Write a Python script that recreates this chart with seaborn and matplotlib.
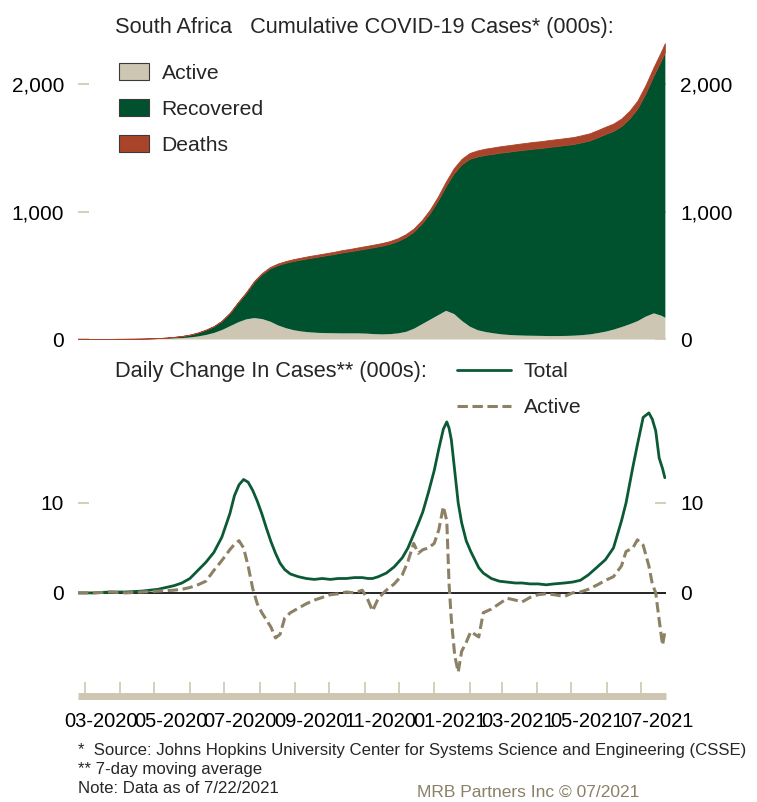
import numpy as np
import pandas as pd
import matplotlib
matplotlib.use("Agg")
import matplotlib.pyplot as plt
import matplotlib.dates as mdates
from matplotlib.patches import Patch
from matplotlib.lines import Line2D
import seaborn as sns

# Cumulative cases (000s), weekly from 2020-02-24, last point 2021-07-22
cum_dates = list(pd.date_range("2020-02-24", "2021-07-19", freq="7D")) + [pd.Timestamp("2021-07-22")]
cum_total = [0.0, 0.0, 0.0, 0.1, 0.4, 1.3, 1.7, 2.3, 3.3, 4.8, 7.2, 10.7, 16.4, 23.6, 34.4, 50.9,
             73.5, 101.6, 144.3, 205.7, 287.8, 364.3, 452.5, 516.9, 563.6, 592.1, 611.5, 627.0,
             639.4, 651.5, 661.9, 672.6, 683.2, 696.4, 706.3, 717.9, 728.8, 740.3, 752.3, 767.7,
             790.0, 821.9, 866.1, 930.7, 1011.9, 1113.3, 1231.6, 1337.9, 1413.0, 1459.0, 1479.3,
             1493.3, 1503.0, 1513.4, 1521.0, 1530.0, 1537.9, 1546.0, 1552.0, 1561.0, 1568.0,
             1576.0, 1584.0, 1598.0, 1613.0, 1638.0, 1665.0, 1690.0, 1730.0, 1790.0, 1870.0,
             1990.0, 2130.0, 2260.0, 2320.0]
cum_deaths = [0, 0, 0, 0, 0, 0.0, 0.01, 0.03, 0.06, 0.09, 0.13, 0.2, 0.3, 0.45, 0.7, 1.1, 1.6,
              2.0, 2.7, 3.2, 4.2, 5.4, 7.5, 8.5, 10.8, 12.0, 13.1, 14.1, 15.0, 15.7, 16.1, 16.7,
              17.2, 17.9, 18.4, 19.0, 19.6, 20.0, 20.4, 20.9, 21.5, 22.4, 23.6, 25.2, 27.4, 30.0,
              34.3, 38.9, 42.6, 45.6, 47.4, 48.5, 49.6, 50.4, 50.9, 51.3, 51.9, 52.5, 53.3, 53.6,
              54.0, 54.3, 54.7, 55.0, 55.3, 55.8, 56.5, 57.4, 58.3, 59.4, 61.2, 63.3, 65.6, 68.0,
              69.4]
cum_active = [0.0, 0.0, 0.0, 0.1, 0.4, 1.2, 1.5, 1.8, 2.0, 2.6, 4.2, 6.0, 8.5, 11.0, 16.0, 24.0,
              36.0, 52.0, 75.0, 105.0, 135.0, 158.0, 168.0, 160.0, 140.0, 110.0, 88.0, 72.0, 62.0,
              56.0, 52.0, 50.0, 49.0, 48.0, 48.0, 48.0, 46.0, 42.0, 40.0, 42.0, 48.0, 60.0, 85.0,
              120.0, 155.0, 190.0, 225.0, 200.0, 145.0, 100.0, 72.0, 58.0, 48.0, 40.0, 35.0, 32.0,
              30.0, 29.0, 28.0, 27.0, 27.0, 28.0, 30.0, 34.0, 40.0, 50.0, 62.0, 78.0, 98.0, 120.0,
              145.0, 180.0, 205.0, 185.0, 170.0]

# Daily change in cases, 7-day moving average (000s)
daily_dates = ["2020-02-24", "2020-03-09", "2020-03-23", "2020-04-06", "2020-04-20", "2020-05-04",
               "2020-05-18", "2020-05-25", "2020-06-01", "2020-06-08", "2020-06-15", "2020-06-22",
               "2020-06-29", "2020-07-06", "2020-07-10", "2020-07-14", "2020-07-18", "2020-07-22",
               "2020-07-26", "2020-07-30", "2020-08-03", "2020-08-07", "2020-08-11", "2020-08-15",
               "2020-08-19", "2020-08-23", "2020-08-28", "2020-09-04", "2020-09-11", "2020-09-18",
               "2020-09-25", "2020-10-02", "2020-10-09", "2020-10-16", "2020-10-23", "2020-10-30",
               "2020-11-04", "2020-11-08", "2020-11-13", "2020-11-20", "2020-11-27", "2020-12-04",
               "2020-12-09", "2020-12-14", "2020-12-18", "2020-12-22", "2020-12-27", "2021-01-01",
               "2021-01-05", "2021-01-09", "2021-01-12", "2021-01-14", "2021-01-16", "2021-01-19",
               "2021-01-22", "2021-01-25", "2021-01-29", "2021-02-02", "2021-02-09", "2021-02-13",
               "2021-02-20", "2021-02-27", "2021-03-06", "2021-03-13", "2021-03-19", "2021-03-26",
               "2021-04-02", "2021-04-09", "2021-04-16", "2021-04-25", "2021-05-02", "2021-05-09",
               "2021-05-16", "2021-05-24", "2021-05-31", "2021-06-07", "2021-06-14", "2021-06-18",
               "2021-06-21", "2021-06-24", "2021-06-28", "2021-07-03", "2021-07-08", "2021-07-11",
               "2021-07-14", "2021-07-17", "2021-07-20", "2021-07-22"]
daily_total = [0.0, 0.0, 0.1, 0.1, 0.2, 0.4, 0.8, 1.1, 1.6, 2.5, 3.4, 4.5, 6.2, 8.8, 10.8, 12.0,
               12.6, 12.3, 11.4, 10.2, 8.8, 7.2, 5.7, 4.4, 3.3, 2.6, 2.1, 1.8, 1.6, 1.5, 1.6, 1.5,
               1.6, 1.6, 1.7, 1.7, 1.6, 1.6, 1.8, 2.2, 2.9, 3.9, 5.0, 6.5, 7.7, 9.0, 11.2, 13.6,
               16.0, 18.2, 19.0, 18.3, 17.0, 13.5, 10.0, 7.8, 5.8, 4.6, 2.8, 2.2, 1.6, 1.3, 1.2,
               1.1, 1.1, 1.0, 1.0, 0.9, 1.0, 1.1, 1.2, 1.4, 2.0, 2.9, 3.7, 5.0, 8.0, 10.0, 12.0,
               14.0, 16.5, 19.5, 20.0, 19.3, 18.0, 15.0, 13.8, 12.8]
daily_active = [0.0, 0.0, 0.1, 0.0, 0.1, 0.2, 0.3, 0.4, 0.6, 0.9, 1.3, 2.5, 3.6, 4.8, 5.4, 5.8,
                5.0, 3.0, 0.5, -1.2, -2.2, -3.0, -3.8, -5.0, -4.6, -2.8, -2.2, -1.7, -1.2, -0.8,
                -0.5, -0.2, -0.1, 0.1, 0.0, 0.3, -0.8, -2.0, -0.6, 0.3, 1.0, 2.0, 3.5, 5.5, 4.4,
                4.8, 5.0, 5.5, 7.0, 9.6, 8.0, 1.0, -3.0, -7.0, -8.8, -6.5, -5.5, -4.3, -4.9, -2.2,
                -1.8, -1.2, -0.6, -0.8, -1.0, -0.5, -0.2, -0.1, -0.2, -0.4, 0.0, 0.1, 0.4, 0.9,
                1.4, 1.8, 3.0, 4.6, 4.8, 5.0, 5.9, 5.3, 3.0, 1.0, 0.0, -3.0, -5.8, -4.3]

TAN = "#cdc6b2"
GREEN = "#00522f"
RUST = "#a9442a"
LINE_GREEN = "#0b5a35"
DASH_TAN = "#8d8165"
MRB = "#8b8068"

sns.set_theme(style="white")
plt.rcParams["font.family"] = ["Liberation Sans", "DejaVu Sans"]

W, H = 757, 802
fig = plt.figure(figsize=(W / 100, H / 100), dpi=100)
x0 = pd.Timestamp("2020-02-24")
x1 = pd.Timestamp("2021-07-23")

# ---- top panel: cumulative cases stacked area
ax1 = fig.add_axes([78 / W, 1 - 339 / H, 588 / W, 306 / H])
cd = np.array(cum_dates)
tot = np.array(cum_total)
dth = np.array(cum_deaths)
act = np.array(cum_active)
ax1.fill_between(cd, 0, act, color=TAN, lw=0)
ax1.fill_between(cd, act, tot - dth, color=GREEN, lw=0)
ax1.fill_between(cd, tot - dth, tot, color=RUST, lw=0.6, edgecolor=RUST)
ax1.set_xlim(x0, x1)
ax1.set_ylim(0, 2400)
ax1.set_yticks([0, 1000, 2000])
ax1.set_yticklabels([f"{v:,}" for v in [0, 1000, 2000]])
ax1.set_xticks([])
for s in ax1.spines.values():
    s.set_visible(False)
ax1.tick_params(axis="y", direction="in", length=8, width=1.2, colors=TAN, labelcolor="black",
                labelsize=15, pad=10, left=True, right=True, labelleft=True, labelright=True)
ax1.set_facecolor("none")

leg1 = ax1.legend(
    handles=[Patch(facecolor=TAN, edgecolor="#3a3a3a", lw=0.8, label="Active"),
             Patch(facecolor=GREEN, edgecolor="#3a3a3a", lw=0.8, label="Recovered"),
             Patch(facecolor=RUST, edgecolor="#3a3a3a", lw=0.8, label="Deaths")],
    loc="upper left", bbox_to_anchor=(119 / W, 1 - 63 / H), bbox_transform=fig.transFigure,
    frameon=False, fontsize=15.2, handlelength=1.4, handleheight=0.87, handletextpad=0.62,
    labelspacing=0.77, borderpad=0, borderaxespad=0)

fig.text(115 / W, 1 - 33 / H, "South Africa   Cumulative COVID-19 Cases* (000s):",
         fontsize=15.7, va="baseline", ha="left")

# ---- bottom panel: daily change
ax2 = fig.add_axes([78 / W, 1 - 695.5 / H, 588 / W, 335.7 / H])
dd = pd.to_datetime(daily_dates)
sns.lineplot(x=dd, y=daily_total, ax=ax2, color=LINE_GREEN, lw=2.0)
sns.lineplot(x=dd, y=daily_active, ax=ax2, color=DASH_TAN, lw=2.2)
ax2.lines[-1].set_dashes([3.4, 1.5])
ax2.axhline(0, color="black", lw=1.2, zorder=1)
ax2.set_xlim(x0, x1)
ax2.set_ylim(-11.4, 25.9)
ax2.set_yticks([0, 10])
ax2.set_yticklabels(["0", "10"])
ax2.set_xlabel("")
ax2.set_ylabel("")
for k in ["top", "left", "right"]:
    ax2.spines[k].set_visible(False)
ax2.spines["bottom"].set_color(TAN)
ax2.spines["bottom"].set_linewidth(5)
ax2.spines["bottom"].set_capstyle("butt")
ax2.tick_params(axis="y", direction="in", length=8, width=1.2, colors=TAN, labelcolor="black",
                labelsize=15, pad=10, left=True, right=True, labelleft=True, labelright=True)
ax2.xaxis.set_major_locator(mdates.MonthLocator())
ax2.xaxis.set_major_formatter(plt.NullFormatter())
ax2.xaxis.set_minor_locator(mdates.MonthLocator(bymonth=[1, 3, 5, 7, 9, 11], bymonthday=15))
ax2.xaxis.set_minor_formatter(mdates.DateFormatter("%m-%Y"))
ax2.tick_params(axis="x", which="major", direction="in", length=10, width=1.2, colors=TAN,
                bottom=True)
ax2.tick_params(axis="x", which="minor", length=0, labelsize=14.5, labelcolor="black", pad=12,
                bottom=True)
ax2.set_facecolor("none")

leg2 = ax2.legend(
    handles=[Line2D([], [], color=LINE_GREEN, lw=2.0, label="Total"),
             Line2D([], [], color=DASH_TAN, lw=2.2, dashes=[3.4, 1.5], label="Active")],
    loc="upper left", bbox_to_anchor=(457 / W, 1 - 362 / H), bbox_transform=fig.transFigure,
    frameon=False, fontsize=15.2, handlelength=2.55, handletextpad=0.62,
    labelspacing=0.8, borderpad=0, borderaxespad=0)

fig.text(115 / W, 1 - 377 / H, "Daily Change In Cases** (000s):",
         fontsize=15.7, va="baseline", ha="left")

# ---- footnotes
fig.text(78 / W, 1 - 755 / H,
         "*  Source: Johns Hopkins University Center for Systems Science and Engineering (CSSE)",
         fontsize=12.1, va="baseline", ha="left")
fig.text(78 / W, 1 - 774 / H, "** 7-day moving average", fontsize=12.1, va="baseline", ha="left")
fig.text(78 / W, 1 - 793 / H, "Note: Data as of 7/22/2021", fontsize=12.1, va="baseline", ha="left")
fig.text(417 / W, 1 - 797 / H, "MRB Partners Inc \u00a9 07/2021", fontsize=12.5, color=MRB,
         va="baseline", ha="left")

fig.savefig("out.png", dpi=100)
